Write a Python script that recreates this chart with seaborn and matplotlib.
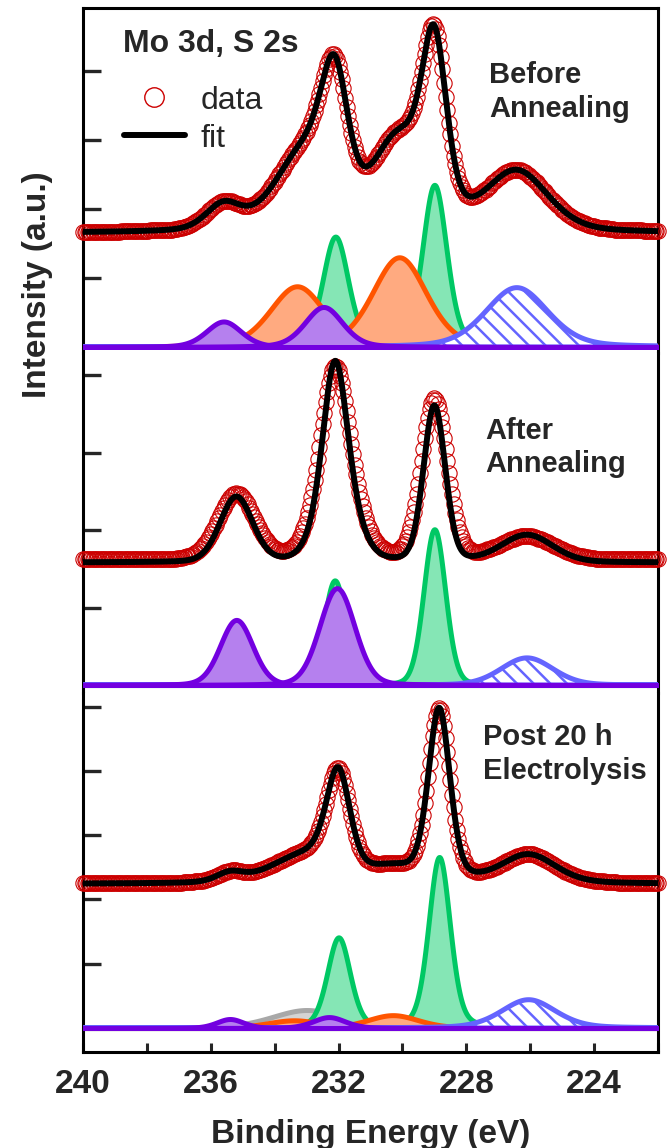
import numpy as np
import matplotlib
matplotlib.use("Agg")
import matplotlib.pyplot as plt
import seaborn as sns
from matplotlib.lines import Line2D
from matplotlib.ticker import MultipleLocator

# Mo 3d / S 2s region, measured from 240 eV downwards in 0.05 eV steps
E_START, E_STEP = 240.0, 0.05

before_intensity = [
    167, 167, 167, 167, 167, 167, 167, 167, 167, 167, 167, 167, 167, 167, 167, 167, 167, 167, 167, 167,
    167, 167, 167, 167, 168, 168, 168, 168, 168, 168, 168, 168, 168, 168, 168, 168, 168, 168, 168, 168,
    168, 168, 169, 169, 169, 169, 169, 169, 169, 169, 169, 170, 170, 170, 170, 170, 170, 171, 171, 171,
    172, 172, 173, 174, 174, 175, 176, 177, 178, 179, 181, 182, 184, 185, 187, 189, 191, 193, 195, 198,
    200, 202, 204, 206, 207, 209, 210, 211, 211, 212, 212, 212, 211, 211, 210, 209, 208, 207, 207, 206,
    205, 205, 205, 205, 205, 206, 206, 207, 208, 210, 212, 214, 216, 218, 221, 223, 226, 229, 233, 236,
    239, 243, 247, 250, 254, 257, 261, 265, 268, 272, 276, 279, 282, 286, 289, 293, 296, 300, 303, 308,
    312, 317, 322, 328, 335, 342, 350, 358, 367, 376, 385, 394, 403, 410, 417, 421, 424, 424, 422, 417,
    409, 399, 388, 375, 361, 348, 335, 322, 310, 300, 290, 282, 276, 270, 266, 264, 262, 262, 262, 263,
    265, 267, 270, 273, 276, 280, 283, 287, 290, 294, 297, 301, 304, 306, 309, 311, 313, 315, 317, 318,
    320, 322, 324, 326, 330, 334, 339, 346, 354, 363, 374, 386, 398, 412, 425, 438, 449, 459, 465, 468,
    466, 461, 451, 437, 421, 403, 383, 363, 344, 325, 308, 292, 277, 265, 254, 245, 238, 232, 227, 223,
    221, 219, 218, 218, 218, 219, 219, 220, 222, 223, 225, 227, 228, 230, 232, 234, 237, 239, 241, 243,
    245, 247, 248, 250, 252, 253, 254, 255, 256, 257, 257, 257, 257, 256, 256, 255, 254, 253, 251, 249,
    247, 245, 243, 241, 239, 236, 234, 231, 228, 226, 223, 221, 218, 215, 213, 210, 208, 206, 204, 201,
    199, 197, 195, 193, 192, 190, 189, 187, 186, 184, 183, 182, 181, 180, 179, 178, 177, 177, 176, 175,
    175, 174, 174, 173, 173, 173, 172, 172, 172, 171, 171, 171, 171, 170, 170, 170, 170, 170, 170, 170,
    169, 169, 169, 169, 169, 169, 169, 169, 169, 169, 169, 168, 168, 168, 168, 168, 168, 168, 168, 168,
    168,
]

after_intensity = [
    162, 162, 162, 162, 162, 162, 162, 162, 162, 162, 162, 162, 162, 162, 162, 162, 162, 162, 162, 162,
    162, 162, 162, 162, 162, 162, 162, 162, 162, 162, 163, 163, 163, 163, 163, 163, 163, 163, 163, 163,
    163, 163, 163, 163, 163, 163, 163, 163, 163, 163, 163, 163, 163, 163, 163, 163, 163, 163, 163, 164,
    164, 164, 164, 165, 165, 166, 166, 167, 168, 169, 170, 171, 173, 175, 177, 179, 182, 185, 188, 191,
    195, 199, 203, 207, 211, 215, 220, 224, 228, 232, 236, 239, 242, 244, 246, 247, 248, 247, 246, 245,
    243, 240, 237, 233, 229, 225, 221, 217, 212, 208, 204, 200, 196, 193, 190, 187, 184, 182, 180, 178,
    177, 175, 174, 174, 173, 173, 173, 174, 174, 175, 177, 178, 180, 182, 185, 189, 192, 197, 202, 208,
    215, 223, 232, 242, 253, 265, 278, 292, 307, 322, 337, 351, 365, 378, 390, 399, 406, 410, 412, 410,
    406, 399, 390, 379, 367, 354, 340, 325, 311, 298, 284, 272, 260, 249, 240, 231, 223, 216, 209, 204,
    199, 194, 190, 187, 184, 182, 179, 178, 176, 175, 174, 173, 172, 172, 172, 172, 172, 173, 175, 176,
    179, 182, 186, 191, 197, 204, 213, 223, 234, 246, 260, 274, 289, 304, 319, 333, 345, 356, 364, 368,
    370, 368, 363, 356, 345, 333, 319, 304, 289, 274, 260, 246, 234, 222, 213, 204, 197, 191, 186, 182,
    179, 177, 175, 174, 173, 172, 172, 172, 172, 172, 173, 173, 174, 175, 175, 176, 177, 178, 178, 179,
    180, 181, 182, 183, 184, 185, 186, 187, 188, 189, 189, 190, 191, 191, 192, 192, 192, 192, 192, 192,
    192, 192, 191, 191, 190, 189, 189, 188, 187, 186, 185, 184, 183, 182, 181, 180, 179, 178, 177, 176,
    175, 174, 173, 172, 171, 170, 170, 169, 168, 168, 167, 167, 166, 166, 165, 165, 165, 164, 164, 164,
    164, 163, 163, 163, 163, 163, 163, 163, 162, 162, 162, 162, 162, 162, 162, 162, 162, 162, 162, 162,
    162, 162, 162, 162, 162, 162, 162, 162, 162, 162, 162, 162, 162, 162, 162, 162, 162, 162, 162, 162,
    162,
]

post_intensity = [
    225, 225, 225, 225, 225, 225, 225, 225, 225, 225, 225, 225, 225, 225, 225, 225, 225, 225, 225, 225,
    225, 225, 225, 225, 225, 225, 225, 225, 225, 225, 225, 225, 225, 225, 225, 225, 225, 225, 225, 225,
    225, 225, 226, 226, 226, 226, 226, 226, 226, 226, 226, 226, 226, 226, 226, 226, 226, 226, 226, 226,
    226, 226, 226, 227, 227, 227, 227, 227, 227, 227, 228, 228, 228, 228, 229, 229, 230, 230, 231, 232,
    233, 234, 235, 236, 237, 238, 239, 240, 242, 243, 243, 244, 244, 245, 245, 245, 245, 244, 244, 244,
    243, 243, 243, 243, 243, 243, 243, 243, 244, 244, 245, 246, 247, 248, 249, 250, 251, 252, 253, 254,
    255, 257, 258, 259, 260, 262, 263, 264, 265, 266, 267, 269, 270, 271, 272, 273, 274, 275, 277, 278,
    280, 282, 284, 287, 291, 295, 300, 306, 313, 321, 330, 339, 349, 360, 370, 380, 389, 397, 402, 405,
    405, 402, 396, 388, 378, 366, 354, 341, 329, 318, 307, 297, 289, 282, 276, 271, 267, 263, 261, 259,
    258, 257, 256, 256, 255, 255, 255, 255, 256, 256, 256, 256, 256, 256, 256, 256, 256, 256, 256, 257,
    257, 257, 258, 259, 260, 263, 266, 270, 275, 283, 292, 303, 316, 332, 350, 369, 390, 412, 434, 454,
    472, 486, 495, 498, 494, 485, 470, 451, 430, 408, 385, 363, 343, 324, 308, 294, 282, 273, 265, 259,
    254, 250, 248, 246, 245, 244, 243, 243, 243, 243, 244, 244, 245, 245, 246, 247, 248, 249, 250, 251,
    252, 254, 255, 256, 257, 259, 260, 261, 263, 264, 265, 266, 267, 268, 269, 269, 270, 270, 270, 271,
    270, 270, 270, 269, 268, 267, 266, 265, 264, 262, 261, 260, 258, 257, 255, 253, 252, 250, 249, 248,
    246, 245, 243, 242, 241, 240, 239, 238, 237, 236, 235, 234, 233, 233, 232, 232, 231, 230, 230, 230,
    229, 229, 229, 228, 228, 228, 228, 227, 227, 227, 227, 227, 227, 227, 227, 226, 226, 226, 226, 226,
    226, 226, 226, 226, 226, 226, 226, 226, 226, 226, 226, 226, 226, 226, 226, 225, 225, 225, 225, 225,
    225,
]

# fitted components, each (centre eV, height, FWHM eV); GL mixing per fit
before_bg, before_eta = 165, 0.3
before_green = [(232.1, 160, 0.95), (229.0, 235, 0.90)]
before_orange = [(233.3, 88, 2.0), (230.1, 130, 2.0)]
before_blue = [(226.42, 86, 2.3)]
before_purple = [(235.6, 37, 1.3), (232.47, 58, 1.4)]
before_gray = []

after_bg, after_eta = 158, 0.15
after_green = [(232.12, 135, 0.80), (229.0, 201, 0.80)]
after_orange = []
after_blue = [(226.1, 35, 1.9)]
after_purple = [(235.2, 84, 1.2), (232.05, 125, 1.3)]
after_gray = []

post_bg, post_eta = 224, 0.3
post_green = [(232.0, 141, 0.85), (228.85, 266, 0.80)]
post_orange = [(233.4, 12, 2.0), (230.3, 20, 1.9)]
post_blue = [(226.05, 44, 2.0)]
post_purple = [(235.4, 14, 1.0), (232.3, 17, 1.2)]
post_gray = [(233.0, 28, 2.6)]

panel_labels = ["Before\nAnnealing", "After\nAnnealing", "Post 20 h\nElectrolysis"]

RED = "#CC0000"
GREEN_EDGE, GREEN_FILL = "#00C864", "#85E6B5"
ORANGE_EDGE, ORANGE_FILL = "#FF5500", "#FFAA80"
PURPLE_EDGE, PURPLE_FILL = "#7300E0", "#B580EE"
BLUE_EDGE = "#6464FF"
GRAY_EDGE, GRAY_FILL = "#A8A8A8", "#D4D4D4"

sns.set_theme(style="ticks")
plt.rcParams["font.family"] = ["Liberation Sans", "DejaVu Sans"]
plt.rcParams["hatch.linewidth"] = 1.8

grid = np.linspace(240.0, 222.0, 1801)


def gl_peak(x, c, h, w, eta):
    """Pseudo-Voigt (Gaussian/Lorentzian mix) line shape."""
    d2 = 4 * (x - c) ** 2 / w ** 2
    return h * ((1 - eta) * np.exp(-np.log(2) * d2) + eta / (1 + d2))


def envelope(x, bg, groups, eta):
    y = np.full_like(x, bg, dtype=float)
    for g in groups:
        for c, h, w in g:
            y = y + gl_peak(x, c, h, w, eta)
    return y


fig = plt.figure(figsize=(6.67, 11.48), dpi=100)
L, W = 83 / 667, 575 / 667
ax_top = fig.add_axes([L, 1 - 353 / 1148, W, 345 / 1148])
ax_mid = fig.add_axes([L, 1 - 693 / 1148, W, 340 / 1148])
ax_bot = fig.add_axes([L, 1 - 1052 / 1148, W, 359 / 1148])

panels = [
    (ax_top, before_intensity, before_bg, before_eta, before_gray, before_green, before_orange,
     before_blue, before_purple, (-8.7, 491.3), 5, (0.706, 0.757)),
    (ax_mid, after_intensity, after_bg, after_eta, after_gray, after_green, after_orange,
     after_blue, after_purple, (-10.3, 428.4), 5, (0.699, 0.722)),
    (ax_bot, post_intensity, post_bg, post_eta, post_gray, post_green, post_orange,
     post_blue, post_purple, (-37.3, 521.0), 6, (0.696, 0.830)),
]

for (ax, counts, bg, eta, gray, green, orange, blue, purple, ylim, nt, lab_xy), label in zip(
        panels, panel_labels):
    energy = np.round(E_START - E_STEP * np.arange(len(counts)), 2)
    styles = [(gray, GRAY_EDGE, GRAY_FILL, None), (green, GREEN_EDGE, GREEN_FILL, None),
              (orange, ORANGE_EDGE, ORANGE_FILL, None), (blue, BLUE_EDGE, "white", "\\\\"),
              (purple, PURPLE_EDGE, PURPLE_FILL, None)]
    z = 1
    for params, edge, fill, hatch in styles:
        for c, h, w in params:
            ax.fill_between(grid, 0, gl_peak(grid, c, h, w, eta), facecolor=fill, edgecolor=edge,
                            hatch=hatch, linewidth=3.6, zorder=z)
        z += 1
    fit = envelope(grid, bg, [gray, green, orange, blue, purple], eta)
    sns.lineplot(x=energy, y=np.asarray(counts, dtype=float), ax=ax, color=RED, marker="o",
                 markersize=11, markerfacecolor="none", markeredgecolor=RED,
                 markeredgewidth=0.8, linestyle="none", sort=False, estimator=None,
                 zorder=8, clip_on=False)
    sns.lineplot(x=grid, y=fit, ax=ax, color="black", linewidth=4.3, sort=False,
                 estimator=None, zorder=9)
    ax.set_xlim(240, 222)
    ax.set_ylim(*ylim)
    ax.set_yticks([100 * k for k in range(nt)])
    ax.set_yticklabels([])
    ax.set_ylabel("")
    ax.set_xlabel("")
    ax.tick_params(axis="y", direction="in", length=13, width=2.4, left=True, right=False)
    for s in ax.spines.values():
        s.set_linewidth(2.2)
        s.set_color("black")
    ax.text(lab_xy[0], lab_xy[1], label, transform=ax.transAxes, fontsize=21,
            fontweight="bold", va="center", ha="left", linespacing=1.25)

for ax in (ax_top, ax_mid):
    ax.tick_params(axis="x", bottom=False, labelbottom=False)
    ax.spines["bottom"].set_visible(False)
for ax in (ax_mid, ax_bot):
    ax.spines["top"].set_visible(False)

ax_bot.xaxis.set_major_locator(MultipleLocator(4))
ax_bot.xaxis.set_minor_locator(MultipleLocator(2))
ax_bot.tick_params(axis="x", which="both", direction="in", length=6.5, width=2.2, pad=12)
ax_bot.tick_params(axis="x", labelsize=24)
for t in ax_bot.get_xticklabels():
    t.set_fontweight("bold")
ax_bot.set_xlabel("Binding Energy (eV)", fontsize=24, fontweight="bold", labelpad=14)
fig.text(38 / 667, 1 - 285 / 1148, "Intensity (a.u.)", rotation=90, ha="center", va="center",
         fontsize=24, fontweight="bold")

ax_top.text(0.0696, 0.896, "Mo 3d, S 2s", transform=ax_top.transAxes, fontsize=23,
            fontweight="bold", va="center", ha="left")
handles = [Line2D([], [], marker="o", linestyle="none", markersize=14, markerfacecolor="none",
                  markeredgecolor=RED, markeredgewidth=1.0),
           Line2D([], [], color="black", linewidth=4.3)]
ax_top.legend(handles, ["data", "fit"], loc="upper left", bbox_to_anchor=(0.0713, 0.775),
              frameon=False, borderpad=0, borderaxespad=0, handlelength=1.9,
              handletextpad=0.5, labelspacing=0.25, fontsize=23)

fig.savefig("out.png", dpi=100)
